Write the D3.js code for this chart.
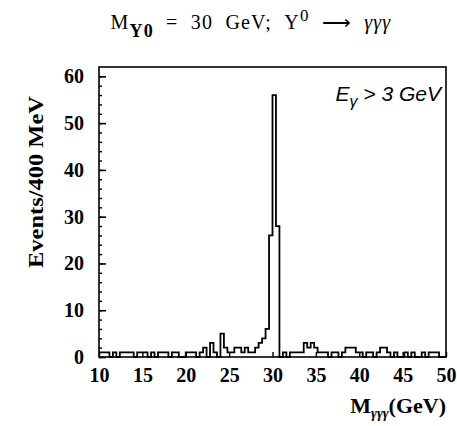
<!DOCTYPE html>
<html lang="en">
<head>
<meta charset="UTF-8">
<script src="https://d3js.org/d3.v7.min.js"></script>
<style>
    body { margin: 0; background: #fff; }
    svg text { fill: #000; }
</style>
</head>
<body>
<div id="chart"></div>
<script>
// histogram: 0.4 GeV bins starting at 10 GeV
var binStart = 10;
var binWidth = 0.4;
var counts = [
    1, 1, 1, 0, 1, 0, 1, 1, 1, 1,
    0, 1, 1, 1, 0, 1, 0, 1, 1, 1,
    0, 1, 1, 0, 0, 1, 1, 1, 0, 1,
    2, 0, 3, 1, 0, 5, 2, 1, 1, 2,
    2, 1, 2, 1, 1, 2, 3, 4, 6, 26,
    56, 28, 0, 1, 0, 1, 1, 1, 1, 3,
    2, 3, 2, 1, 1, 1, 0, 1, 1, 0,
    1, 2, 2, 2, 1, 1, 0, 1, 1, 0,
    1, 2, 2, 1, 0, 1, 0, 0, 1, 0,
    1, 0, 0, 1, 0, 1, 1, 1, 0, 0
];
var xTicks = [10, 15, 20, 25, 30, 35, 40, 45, 50];
var yTicks = [0, 10, 20, 30, 40, 50, 60];

var W = 457, H = 426;
var margin = { top: 67, right: 11, bottom: 69, left: 99 };
var width = W - margin.left - margin.right,
    height = H - margin.top - margin.bottom;

var svg = d3.select("#chart").append("svg")
    .attr("width", W)
    .attr("height", H);

var g = svg.append("g")
    .attr("transform", `translate(${margin.left},${margin.top})`);

var x = d3.scaleLinear().domain([10, 50]).range([0, width]);
var y = d3.scaleLinear().domain([0, 62]).range([height, 0]);

// frame
g.append("rect")
    .attr("width", width)
    .attr("height", height)
    .attr("fill", "none")
    .attr("stroke", "#000")
    .attr("stroke-width", 1.6);

// y axis, inward ticks + minor
var yMinor = d3.range(0, 62, 2);
g.append("g")
    .call(d3.axisRight(y).tickValues(yMinor).tickSize(3).tickFormat(""))
    .call(a => a.select(".domain").remove())
    .selectAll("line").attr("stroke-width", 1.4);
g.append("g")
    .call(d3.axisRight(y).tickValues(yTicks).tickSize(7).tickFormat(""))
    .call(a => a.select(".domain").remove())
    .selectAll("line").attr("stroke-width", 1.6);
g.append("g")
    .call(d3.axisLeft(y).tickValues(yTicks).tickSize(0).tickPadding(15))
    .call(a => a.select(".domain").remove())
    .selectAll("text")
    .style("font-family", "'Liberation Serif', serif")
    .style("font-weight", "bold")
    .style("font-size", "20px");

// x axis
g.append("g")
    .attr("transform", `translate(0,${height})`)
    .call(d3.axisTop(x).tickValues(xTicks).tickSize(5).tickFormat(""))
    .call(a => a.select(".domain").remove())
    .selectAll("line").attr("stroke-width", 1.4);
g.append("g")
    .attr("transform", `translate(0,${height})`)
    .call(d3.axisBottom(x).tickValues(xTicks).tickSize(0).tickPadding(11))
    .call(a => a.select(".domain").remove())
    .selectAll("text")
    .style("font-family", "'Liberation Serif', serif")
    .style("font-weight", "bold")
    .style("font-size", "20px");

// histogram outline as a step path
var pts = [];
counts.forEach(function(c, i) {
    var x0 = binStart + i * binWidth;
    pts.push([x0, c], [x0 + binWidth, c]);
});
var line = d3.line()
    .x(function(d) { return x(d[0]); })
    .y(function(d) { return y(d[1]); });
g.append("path")
    .datum(pts)
    .attr("d", line)
    .attr("fill", "none")
    .attr("stroke", "#000")
    .attr("stroke-width", 1.8)
    .attr("stroke-linejoin", "miter");

// annotation
var ann = g.append("text")
    .attr("x", width - 5)
    .attr("y", 34)
    .attr("text-anchor", "end")
    .style("font-family", "'Liberation Sans', sans-serif")
    .style("font-style", "italic")
    .style("font-size", "21px");
ann.append("tspan").text("E");
ann.append("tspan").attr("dy", 6).style("font-size", "16px").text("γ");
ann.append("tspan").attr("dy", -6).text(" > 3 GeV");

// title
var title = svg.append("text")
    .attr("x", 251)
    .attr("y", 29)
    .attr("text-anchor", "middle")
    .style("font-family", "'Liberation Serif', serif")
    .style("font-size", "20px")
    .style("word-spacing", "6px")
    .style("letter-spacing", "1.2px");
title.append("tspan").text("M");
title.append("tspan").attr("dy", 8).style("font-size", "18px").style("font-weight", "bold").text("Υ0");
title.append("tspan").attr("dy", -8).text(" = 30 GeV;  Υ");
title.append("tspan").attr("dy", -8).style("font-size", "17px").text("0");
title.append("tspan").attr("dy", 8).text(" ⟶ ");
title.append("tspan").style("font-style", "italic").text("γγγ");

// y label
svg.append("text")
    .attr("transform", "rotate(-90)")
    .attr("x", -182)
    .attr("y", 43)
    .attr("text-anchor", "middle")
    .attr("textLength", 172)
    .attr("lengthAdjust", "spacingAndGlyphs")
    .style("font-family", "'Liberation Serif', serif")
    .style("font-weight", "bold")
    .style("font-size", "21px")
    .text("Events/400 MeV");

// x label
var xl = svg.append("text")
    .attr("x", W - 11)
    .attr("y", 413)
    .attr("text-anchor", "end")
    .style("font-family", "'Liberation Serif', serif")
    .style("font-weight", "bold")
    .style("font-size", "22px");
xl.append("tspan").text("M");
xl.append("tspan").attr("dy", 5).style("font-size", "14px").style("font-style", "italic").text("γγγ");
xl.append("tspan").attr("dy", -5).text("(GeV)");
</script>
</body>
</html>
